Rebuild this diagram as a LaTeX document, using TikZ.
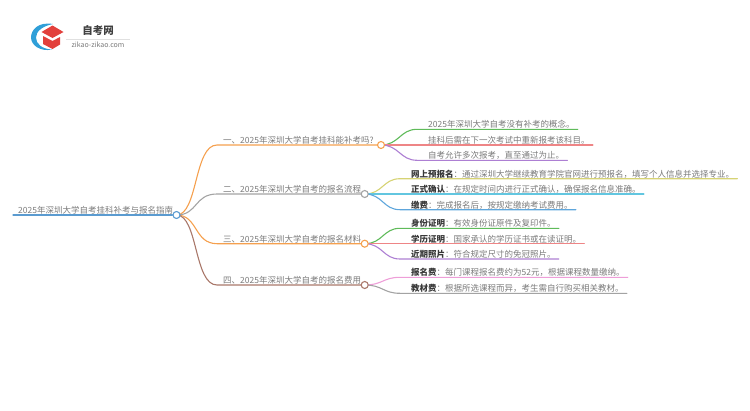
\documentclass[tikz,border=0pt]{standalone}
\usepackage{fontspec}
\setmainfont{Noto Sans CJK SC}
\definecolor{TextGray}{HTML}{7a7a7a}
\definecolor{RootBlue}{HTML}{5b9bd0}
\definecolor{TopicOrange}{HTML}{f5a04e}
\definecolor{TopicGray}{HTML}{a3a3a3}
\definecolor{TopicBrown}{HTML}{a9786a}
\definecolor{LeafGreen}{HTML}{5fbb5a}
\definecolor{LeafRed}{HTML}{ee8586}
\definecolor{LeafPurple}{HTML}{ad7fd3}
\definecolor{LeafOlive}{HTML}{d6d374}
\definecolor{LeafCyan}{HTML}{62c6e0}
\definecolor{LeafBlue}{HTML}{5ea6dc}
\definecolor{LeafPink}{HTML}{ee9ed8}
\definecolor{LogoBlue}{HTML}{2f9fd8}
\definecolor{LogoRed}{HTML}{e2403c}
\usetikzlibrary{positioning,calc,backgrounds}
\tikzset{
  x=1pt,y=-1pt,
  txt/.style={anchor=south west,inner xsep=0pt,inner ysep=0.4pt,text=TextGray,font=\fontsize{8.5pt}{10pt}\selectfont},
  dot/.style={circle,draw=#1,fill=white,line width=1.1pt,minimum size=7pt,inner sep=0pt},
  wire/.style={draw=#1,line width=1.1pt,line cap=round}
}
\newcommand{\keyword}[1]{\textbf{\textcolor{black!78}{#1}}}
\begin{document}
\begin{tikzpicture}
  \useasboundingbox (0,0) rectangle (750,410);
  % logo
  \fill[LogoBlue] (53,24) .. controls (38,21.5) and (31,30) .. (31,37.5) .. controls (31,45) and (40,52) .. (52,49.5)
    .. controls (42,49) and (36,44) .. (36,37.5) .. controls (36,31) and (43,26) .. (53,24) -- cycle;
  \fill[LogoRed] (41.5,32) -- (52.5,25.5) -- (63.5,32) -- (52.5,38) -- cycle;
  \fill[LogoRed] (43,36) -- (52.5,41) -- (60,37) -- (60,44.5) -- (52.5,49) -- (43,44) -- cycle;
  \node[inner sep=0pt,font=\bfseries\fontsize{10.5pt}{12pt}\selectfont,text=black!75] (sitename) at (98,31) {自考网};
  \node[inner sep=0pt,font=\fontsize{7pt}{8pt}\selectfont,text=TextGray] (siteurl) at (98,45) {zikao-zikao.com};
  \coordinate (ruleL) at (66,39);
  \coordinate (ruleR) at (130,39);
  \draw[black!12,line width=.6pt] (ruleL) -- (ruleR);
  % root
  \node[dot=RootBlue] (root) at (176.5,215) {};
  \node[txt] (roottxt) at (18,215) {2025年深圳大学自考挂科补考与报名指南};
  \coordinate (rootL) at (13,215);
  % topics
  \node[dot=TopicOrange] (t1) at (381,145) {};
  \node[dot=TopicGray] (t2) at (364.7,194) {};
  \node[dot=TopicOrange] (t3) at (364.7,243.7) {};
  \node[dot=TopicBrown] (t4) at (364.7,285) {};
  \node[txt] (t1txt) at (223,145) {一、2025年深圳大学自考挂科能补考吗?};
  \node[txt] (t2txt) at (223,194) {二、2025年深圳大学自考的报名流程};
  \node[txt] (t3txt) at (223,243.7) {三、2025年深圳大学自考的报名材料};
  \node[txt] (t4txt) at (223,285) {四、2025年深圳大学自考的报名费用};
  % leaves
  \node[txt] (a1) at (428,129.3) {2025年深圳大学自考没有补考的概念。};
  \node[txt] (a2) at (428,145) {挂科后需在下一次考试中重新报考该科目。};
  \node[txt] (a3) at (428,160.3) {自考允许多次报考，直至通过为止。};
  \node[txt] (b1) at (411,178.7) {\keyword{网上预报名}：通过深圳大学继续教育学院官网进行预报名，填写个人信息并选择专业。};
  \node[txt] (b2) at (411,194) {\keyword{正式确认}：在规定时间内进行正式确认，确保报名信息准确。};
  \node[txt] (b3) at (411,209.7) {\keyword{缴费}：完成报名后，按规定缴纳考试费用。};
  \node[txt] (c1) at (411,228.3) {\keyword{身份证明}：有效身份证原件及复印件。};
  \node[txt] (c2) at (411,243.7) {\keyword{学历证明}：国家承认的学历证书或在读证明。};
  \node[txt] (c3) at (411,259) {\keyword{近期照片}：符合规定尺寸的免冠照片。};
  \node[txt] (d1) at (411,277.3) {\keyword{报名费}：每门课程报名费约为52元，根据课程数量缴纳。};
  \node[txt] (d2) at (411,293.3) {\keyword{教材费}：根据所选课程而异，考生需自行购买相关教材。};
  \begin{scope}[on background layer]
    \draw[wire=RootBlue] (rootL) -- (root);
    \foreach \t/\c in {t1/TopicOrange,t2/TopicGray,t3/TopicOrange,t4/TopicBrown}
      \draw[wire=\c] (root.center) .. controls (198,215) and (194,0|-\t) .. ($(\t -| 0,0)+(217,0)$) -- (\t.center);
    \foreach \f/\l/\c in {t1/a1/LeafGreen,t1/a2/LeafRed,t1/a3/LeafPurple,
                          t2/b1/LeafOlive,t2/b2/LeafCyan,t2/b3/LeafBlue,
                          t3/c1/LeafGreen,t3/c2/LeafRed,t3/c3/LeafPurple,
                          t4/d1/LeafPink,t4/d2/TopicGray}
      \draw[wire=\c] (\f.center) .. controls ++(18,0) and ($(\l.south west)+(-28,0)$) .. ($(\l.south west)+(-11,0)$) -- ($(\l.south east)+(3,0)$);
  \end{scope}
\end{tikzpicture}
\end{document}
